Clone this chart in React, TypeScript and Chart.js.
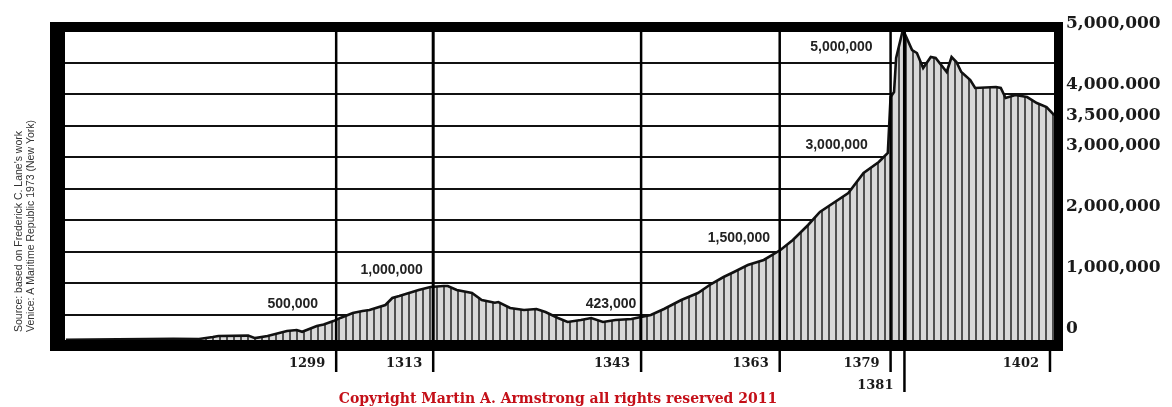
import React, { useEffect, useRef } from "react";
import { Chart, registerables } from "chart.js";

Chart.register(...registerables);

// ---- data ----
const years = [
  1260, 1267.5, 1271.7, 1275.5, 1279.2, 1281.2, 1282, 1286.3, 1287.3, 1289.1,
  1291.9, 1293.3, 1294.1, 1296.2, 1297.2, 1298.6, 1299.6, 1301.4, 1302.8, 1303.8,
  1306.1, 1307.1, 1308.1, 1310.9, 1312.6, 1314.5, 1315.1, 1316.4, 1318.6, 1320,
  1321.9, 1322.4, 1324.1, 1326.1, 1327.9, 1329.2, 1331, 1332.4, 1334.3, 1335.8,
  1337.5, 1339.3, 1341.6, 1343, 1344.4, 1346.3, 1348.8, 1351.2, 1353.1, 1354.9,
  1356.4, 1358.4, 1360.7, 1363.1, 1364.9, 1367.1, 1368.8, 1372.9, 1375.1, 1377.3,
  1378.6, 1379, 1379.5, 1379.8, 1380.7, 1381, 1382.1, 1382.8, 1383.7, 1384.8,
  1385.5, 1387.1, 1387.8, 1388.5, 1389.2, 1390.5, 1391.2, 1394.2, 1394.9, 1395.6,
  1397, 1398.7, 1400.1, 1401.5, 1402.6,
];
const debt = [
  105000, 110000, 116000, 118000, 116000, 147000, 163000, 170000, 130000, 163000,
  243000, 259000, 230000, 322000, 345000, 400000, 450000, 528000, 560000, 576000,
  655000, 766000, 797000, 893000, 940000, 956000, 956000, 893000, 845000, 734000,
  690000, 702000, 607000, 576000, 592000, 544000, 449000, 386000, 417000, 449000,
  386000, 417000, 433000, 465000, 497000, 592000, 734000, 845000, 988000, 1099000,
  1178000, 1289000, 1369000, 1527000, 1686000, 1924000, 2130000, 2431000, 2748000, 2923000,
  3065000, 3953000, 4033000, 4572000, 4984000, 4968000, 4699000, 4651000, 4413000, 4588000,
  4572000, 4350000, 4588000, 4508000, 4350000, 4223000, 4096000, 4112000, 4096000, 3938000,
  3985000, 3953000, 3858000, 3795000, 3668000,
];

const markerYears = [1299, 1313, 1343, 1363, 1379, 1381, 1402];
const markerLabels = ["1299", "1313", "1343", "1363", "1379", "1381", "1402"];

const gridValues = [500000, 1000000, 1500000, 2000000, 2500000, 3000000, 3500000, 4000000, 4500000];

const rightTickValues = [0, 1000000, 2000000, 3000000, 3500000, 4000000, 5000000];
const rightTickLabels = ["0", "1,000,000", "2,000,000", "3,000,000", "3,500,000", "4,000.000", "5,000,000"];

const noteTexts = ["500,000", "1,000,000", "423,000", "1,500,000", "3,000,000", "5,000,000"];
const noteYears = [1296.4, 1311.5, 1342.3, 1361.6, 1375.7, 1376.4];
const noteValues = [671000, 1210000, 671000, 1717000, 3192000, 4751000];

const sourceLines = [
  "Source: based on Frederick C. Lane's work",
  "Venice: A Maritime Republic 1973 (New York)",
];
const copyrightText = "Copyright Martin A. Armstrong all rights reserved 2011";

export default function App() {
  const ref = useRef<HTMLCanvasElement>(null);

  useEffect(() => {
    const canvas = ref.current!;
    const ctx0 = canvas.getContext("2d")!;
    const tile = document.createElement("canvas");
    tile.width = 7;
    tile.height = 4;
    const tg = tile.getContext("2d")!;
    tg.fillStyle = "#d8d8d8";
    tg.fillRect(0, 0, 7, 4);
    tg.fillStyle = "#4f4f4f";
    tg.fillRect(2, 0, 2, 4);
    const pattern = ctx0.createPattern(tile, "repeat")!;

    const overlay = {
      id: "overlay",
      afterDraw(chart: any) {
        const ctx = chart.ctx as CanvasRenderingContext2D;
        const ca = chart.chartArea;
        const xs = chart.scales.x;
        const ys = chart.scales.y;
        ctx.save();
        // vertical marker lines inside the plot
        ctx.strokeStyle = "#000";
        markerYears.forEach((yr, i) => {
          if (i === markerYears.length - 1) return;
          const px = xs.getPixelForValue(yr);
          ctx.lineWidth = yr === 1313 || yr === 1381 ? 3 : 2.5;
          ctx.beginPath();
          ctx.moveTo(px, ca.top);
          ctx.lineTo(px, ca.bottom);
          ctx.stroke();
        });
        // frame
        ctx.fillStyle = "#000";
        ctx.fillRect(ca.left - 15, ca.top - 9, ca.right - ca.left + 24, 10);
        ctx.fillRect(ca.left - 15, ca.top - 9, 15, ca.bottom - ca.top + 20);
        ctx.fillRect(ca.right, ca.top - 9, 9, ca.bottom - ca.top + 20);
        ctx.fillRect(ca.left - 15, ca.bottom, ca.right - ca.left + 24, 11);
        // tick marks and year labels below
        ctx.font = "bold 13px 'DejaVu Serif'";
        ctx.textAlign = "right";
        ctx.textBaseline = "alphabetic";
        markerYears.forEach((yr, i) => {
          const px = xs.getPixelForValue(yr);
          const low = yr === 1381;
          ctx.lineWidth = 2.5;
          ctx.beginPath();
          ctx.moveTo(px, ca.bottom + 11);
          ctx.lineTo(px, ca.bottom + (low ? 52 : 32));
          ctx.stroke();
          ctx.fillStyle = "#1a1a1a";
          ctx.fillText(markerLabels[i], px - 11, ca.bottom + (low ? 49 : 27));
        });
        // annotations inside the plot
        ctx.font = "bold 14px 'Liberation Sans'";
        ctx.fillStyle = "#222";
        ctx.textBaseline = "middle";
        noteTexts.forEach((t, i) => {
          ctx.fillText(t, xs.getPixelForValue(noteYears[i]), ys.getPixelForValue(noteValues[i]));
        });
        // source text (rotated)
        ctx.font = "10.5px 'Liberation Sans'";
        ctx.fillStyle = "#333";
        ctx.textAlign = "left";
        ctx.textBaseline = "alphabetic";
        sourceLines.forEach((t, i) => {
          ctx.save();
          ctx.translate(22 + i * 12, ca.bottom - 8);
          ctx.rotate(-Math.PI / 2);
          ctx.fillText(t, 0, 0);
          ctx.restore();
        });
        // copyright
        ctx.font = "bold 14px 'DejaVu Serif'";
        ctx.fillStyle = "#c40f18";
        ctx.textAlign = "center";
        ctx.fillText(copyrightText, 558, ca.bottom + 63);
        ctx.restore();
      },
    };

    const chart = new Chart(canvas, {
      type: "line",
      data: {
        datasets: [
          {
            data: years.map((yr, i) => ({ x: yr, y: debt[i] })),
            borderColor: "#111",
            borderWidth: 2.6,
            pointRadius: 0,
            tension: 0,
            fill: "start",
            backgroundColor: pattern,
          },
        ],
      },
      options: {
        responsive: false,
        animation: false,
        layout: { padding: { left: 65, top: 31, right: 0, bottom: 67 } },
        plugins: { legend: { display: false }, tooltip: { enabled: false } },
        scales: {
          x: { type: "linear", min: 1259.87, max: 1402.58, display: false },
          y: {
            type: "linear",
            position: "left",
            min: 100000,
            max: 5000000,
            z: 1,
            ticks: { display: false },
            border: { display: false },
            grid: { color: "#111", lineWidth: 2, drawTicks: false },
            afterBuildTicks: (s: any) => {
              s.ticks = gridValues.map((v) => ({ value: v }));
            },
            afterFit: (s: any) => {
              s.width = 0;
            },
          },
          y2: {
            type: "linear",
            position: "right",
            min: -180000,
            max: 4886000,
            grid: { display: false, drawTicks: false },
            border: { display: false },
            ticks: {
              autoSkip: false,
              padding: 12,
              color: "#1a1a1a",
              font: { family: "'DejaVu Serif'", size: 17, weight: "bold" },
              callback: (_v: any, i: number) => rightTickLabels[i],
            },
            afterBuildTicks: (s: any) => {
              s.ticks = rightTickValues.map((v) => ({ value: v }));
            },
            afterFit: (s: any) => {
              s.width = 118;
            },
          },
        },
      },
      plugins: [overlay],
    } as any);
    return () => chart.destroy();
  }, []);

  return (
    <div style={{ position: "fixed", left: 0, top: 0, width: 1172, height: 407, background: "#fff" }}>
      <canvas ref={ref} width={1172} height={407} style={{ display: "block", width: 1172, height: 407 }} />
    </div>
  );
}
